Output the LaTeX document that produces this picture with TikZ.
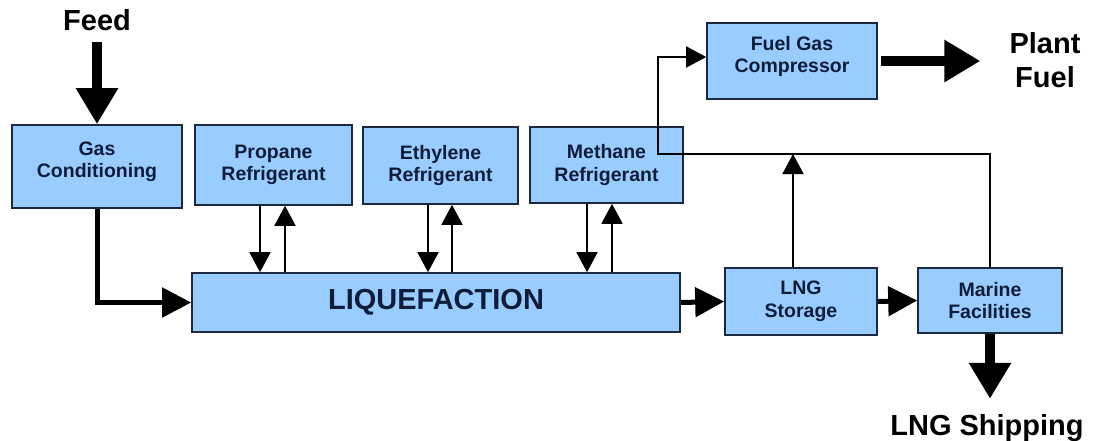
\documentclass[tikz,border=0pt]{standalone}
\usepackage{fontspec}
\setmainfont{Liberation Sans}
\usetikzlibrary{arrows.meta}
\definecolor{boxfill}{HTML}{99CCFF}
\definecolor{boxline}{HTML}{1C2840}
\definecolor{boxtext}{HTML}{0F1D3A}

\begin{document}
\begin{tikzpicture}[x=1pt,y=-1pt,
  unitfont/.style={text=boxtext, align=center, inner sep=0pt,
    font=\fontsize{19.5}{22.5}\selectfont\bfseries},
  unit/.style={draw=boxline, line width=1.6pt, fill=boxfill, unitfont},
  % box whose caption sits a little above the centre
  highunit/.style={unit, label={[unitfont, yshift=4.5pt]center:#1}},
  biglabel/.style={font=\fontsize{29}{34}\selectfont\bfseries, align=center, inner sep=0pt},
  thinflow/.style={line width=1.8pt, -{Triangle[length=20pt,width=21pt]}},
  midflow/.style={line width=5pt, -{Triangle[length=29pt,width=29pt]}},
  bigflow/.style={line width=10pt, -{Triangle[length=36pt,width=40pt]}},
]
\useasboundingbox (0,0) rectangle (1095,441);

% process units
\node[highunit={Gas\\Conditioning}, minimum width=170pt, minimum height=83pt] (gas) at (97,166.5) {};
\node[unit, minimum width=157pt, minimum height=80pt] (prop) at (273.5,165) {Propane\\Refrigerant};
\node[unit, minimum width=155pt, minimum height=77pt] (eth) at (440.5,165.5) {Ethylene\\Refrigerant};
\node[unit, minimum width=153pt, minimum height=76pt] (meth) at (606.5,165) {Methane\\Refrigerant};
\node[unit, minimum width=488pt, minimum height=59pt, font=\fontsize{29}{34}\selectfont\bfseries] (liq) at (436,302.5) {LIQUEFACTION};
\node[highunit={Fuel Gas\\Compressor}, minimum width=170pt, minimum height=76pt] (fgc) at (792,61) {};
\node[unit, minimum width=152pt, minimum height=67pt] (lng) at (801,301.5) {LNG\\Storage};
\node[unit, minimum width=144pt, minimum height=65pt] (mar) at (990,300.5) {Marine\\Facilities};

% external streams
\node[biglabel, anchor=base] (feed) at (97,31) {Feed};
\node[biglabel] (plant) at (1045,60) {Plant\\Fuel};
\node[biglabel, anchor=base] (ship) at (987,435) {LNG Shipping};

% main product path
\draw[bigflow, shorten <=11pt] (feed.south) -- (gas.north);
\draw[midflow] (gas.south) |- (liq.west);
\draw[midflow] (liq.east) -- (lng.west);
\draw[midflow] (lng.east) -- (mar.west);
\draw[bigflow] (mar.south) -- ([yshift=15pt]ship.north -| mar.south);
\draw[bigflow, shorten <=3pt, shorten >=29pt] (fgc.east) -- (fgc.east -| plant.west);

% refrigerant loops
\draw[thinflow] (prop.south -| 260,0) -- (liq.north -| 260,0);
\draw[thinflow] (liq.north -| 285,0) -- (prop.south -| 285,0);
\draw[thinflow] (eth.south -| 428,0) -- (liq.north -| 428,0);
\draw[thinflow] (liq.north -| 452,0) -- (eth.south -| 452,0);
\draw[thinflow] (meth.south -| 587,0) -- (liq.north -| 587,0);
\draw[thinflow] (liq.north -| 612,0) -- (meth.south -| 612,0);

% boil-off gas to fuel gas compressor
\coordinate (bogR) at (990,154);
\coordinate (bogL) at (658,154);
\coordinate (bogT) at (658,57);
\draw[thinflow] (mar.north) -- (bogR) -- (bogL) -- (bogT) -- (bogT -| fgc.west);
\draw[thinflow] (lng.north -| 793,0) -- (bogR -| 793,0);
\end{tikzpicture}
\end{document}
